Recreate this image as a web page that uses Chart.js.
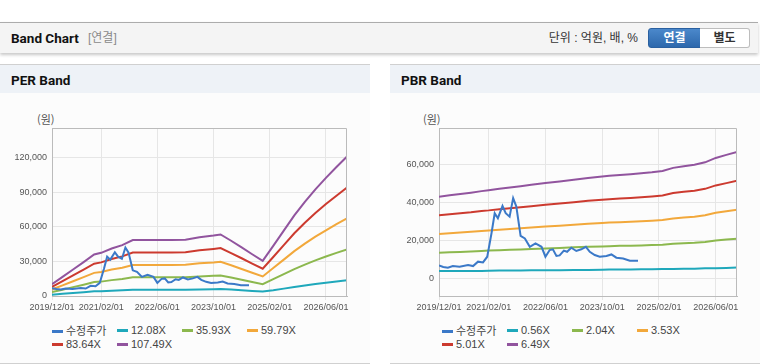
<!DOCTYPE html>
<html lang="ko">
<head>
<meta charset="utf-8">
<script src="https://cdn.jsdelivr.net/npm/chart.js@4.4.1/dist/chart.umd.min.js"></script>
<style>
  body { margin: 0; width: 760px; height: 364px; background: #fff; position: relative; overflow: hidden;
         font-family: "Liberation Sans", Arial, "Noto Sans CJK KR", sans-serif; }
  #hdr { position: absolute; left: 0; top: 22px; width: 758px; height: 30px; background: #f4f4f4;
         border-top: 1px solid #acacac; box-shadow: 0 2px 3px rgba(0,0,0,0.22); }
  #hdr .title { position: absolute; left: 11px; top: 0; font: bold 13.5px Roboto, sans-serif; line-height: 30px; color: #111; }
  #hdr .sub { position: absolute; left: 88px; top: 0; font: 12px "Liberation Sans", "Noto Sans CJK KR", sans-serif; line-height: 30px; color: #8a8a8a; }
  #hdr .unit { position: absolute; right: 120px; top: 0; font: 12px "Liberation Sans", "Noto Sans CJK KR", sans-serif; line-height: 30px; color: #333; }
  .btn { position: absolute; top: 5px; height: 18px; text-align: center;
         font: bold 12px "Liberation Sans", "Noto Sans CJK KR", sans-serif; line-height: 18px; }
  .btn.on { left: 648px; width: 51px; color: #fff; background: linear-gradient(#4b88cb, #2d68ac);
            border: 1px solid #2a60a0; border-radius: 3px 0 0 3px; }
  .btn.off { left: 700px; width: 49px; color: #333; background: #fff; border: 1px solid #bdbdbd;
             border-left: none; border-radius: 0 3px 3px 0; }
  .panel { position: absolute; top: 64px; width: 370px; height: 298px; background: #fcfcfc;
           border-top: 1px solid #d0d0d0; border-bottom: 1px solid #d0d0d0; }
  .panel .ptitle { height: 28px; padding-left: 11px; background: #eef2f7;
                   font: bold 13.5px Roboto, sans-serif; line-height: 30px; color: #111; }
  .panel .won { position: absolute; top: 46px; font: 11px "Noto Sans CJK KR", sans-serif; color: #555; }
  .panel canvas { position: absolute; left: 0; top: 35px; }
  .legend { position: absolute; top: 259px; display: grid; grid-template-columns: repeat(4, 65px);
            font-size: 11px; color: #444; line-height: 13px; }
  .legend span.sw { display: inline-block; width: 11px; height: 3px; margin-right: 3px; vertical-align: middle; position: relative; top: -1px; }
  .legend .ko { font-family: "Noto Sans CJK KR", sans-serif; }
</style>
</head>
<body>
<div id="hdr">
  <div class="title">Band Chart</div>
  <div class="sub">[연결]</div>
  <div class="unit">단위 : 억원, 배, %</div>
  <div class="btn on">연결</div>
  <div class="btn off">별도</div>
</div>

<div class="panel" style="left:0">
  <div class="ptitle">PER Band</div>
  <div class="won" style="left:37px">(원)</div>
  <canvas id="per" width="370" height="220"></canvas>
  <div class="legend" id="perLegend" style="left:52px"></div>
</div>

<div class="panel" style="left:390px">
  <div class="ptitle">PBR Band</div>
  <div class="won" style="left:33px">(원)</div>
  <canvas id="pbr" width="370" height="220"></canvas>
  <div class="legend" id="pbrLegend" style="left:52px"></div>
</div>

<script>
// x axis: months counted from 2019/12/01
const xTickMonths = [0, 14, 30, 46, 62, 78];
const xTickLabels = ['2019/12/01', '2021/02/01', '2022/06/01', '2023/10/01', '2025/02/01', '2026/06/01'];
const bandMonths = [0, 3, 6, 9, 12, 14, 17, 20, 23, 26, 30, 34, 38, 42, 46, 48, 51, 54, 57, 60, 63, 66, 69, 72, 75, 78, 81, 84];

const seriesColors = ['#3b79c8', '#1fa8bb', '#8cb84e', '#f2a83b', '#cc3a2f', '#91549e'];

// 수정주가 (adjusted price)
const priceMonths = [0, 1.2, 2.5, 3.9, 5.8, 8.2, 9.6, 11, 12.4, 13.6, 14.8, 15.7, 16.6, 17.9, 18.8, 19.9, 20.9, 21.8, 23, 24.2,
  25.6, 27.2, 28.9, 30, 31.2, 32.1, 33.1, 34, 35.2, 36.1, 37.3, 38.7, 40.1, 41.4, 42.5, 43.9, 45.3, 47.2, 48.6, 50, 51.9, 53.8, 56.1];
const price = [6800, 6000, 5600, 6500, 6100, 7000, 6500, 8800, 8400, 11400, 23700, 34200, 31600, 38000, 34200, 32400, 42100, 37700, 22300, 21000,
  16600, 18400, 16600, 11400, 14900, 15300, 11800, 12100, 14600, 14000, 16100, 14400, 15300, 16600, 14000, 12300, 11400, 11800, 12600, 10900, 10500, 9300, 9300];

// PER band
const perLabels = ['수정주가', '12.08X', '35.93X', '59.79X', '83.64X', '107.49X'];
const per12 = [1100, 1900, 2600, 3300, 4100, 4200, 4600, 5000, 5500, 5500, 5500, 5500, 5500, 5700, 5900, 6000, 5600, 4900, 4300, 3900, 4900, 6400, 7900, 9200, 10400, 11500, 12600, 13800];
const per36 = [3400, 5500, 7700, 9800, 12100, 12500, 13800, 14800, 16200, 16200, 16200, 16200, 16300, 17000, 17600, 17900, 16000, 14100, 12100, 10200, 14600, 19000, 23400, 27300, 31000, 34300, 37500, 40500];
const per60 = [5700, 9200, 12800, 16400, 20100, 20900, 23000, 24600, 27000, 27000, 27000, 27000, 27100, 28400, 29200, 29800, 26700, 23500, 20200, 17000, 24300, 31600, 39000, 45500, 51600, 57100, 62400, 67400];
const per84 = [7900, 12900, 17900, 22900, 28100, 29200, 32100, 34400, 37800, 37800, 37800, 37800, 38000, 39700, 40900, 41600, 37300, 32800, 28200, 23700, 33900, 44200, 54500, 63600, 72100, 79900, 87200, 94300];
const per107 = [10200, 16600, 23000, 29400, 36100, 37500, 41300, 44200, 48600, 48600, 48600, 48600, 48800, 51000, 52500, 53500, 48000, 42200, 36300, 30500, 43600, 56800, 70100, 81800, 92700, 102700, 112100, 121200];
const perTicks = [0, 30000, 60000, 90000, 120000];

// PBR band
const pbrLabels = ['수정주가', '0.56X', '2.04X', '3.53X', '5.01X', '6.49X'];
const pbr056 = [3900, 3900, 3900, 3900, 3900, 4000, 4200, 4200, 4200, 4300, 4300, 4300, 4400, 4500, 4600, 4700, 4700, 4700, 4800, 4800, 4900, 5000, 5100, 5100, 5300, 5400, 5500, 5700];
const pbr204 = [13500, 13700, 13900, 14100, 14400, 14600, 14800, 15000, 15200, 15400, 15700, 16000, 16300, 16600, 16800, 16900, 17100, 17200, 17300, 17500, 17700, 18200, 18500, 18700, 19100, 19900, 20400, 20800];
const pbr353 = [23300, 23700, 24100, 24500, 24900, 25200, 25600, 25900, 26300, 26700, 27200, 27700, 28200, 28700, 29100, 29300, 29500, 29800, 30000, 30300, 30700, 31500, 32000, 32400, 33100, 34400, 35200, 36100];
const pbr501 = [33100, 33700, 34200, 34700, 35400, 35700, 36300, 36800, 37400, 37900, 38600, 39300, 40000, 40700, 41300, 41600, 41900, 42200, 42600, 43000, 43500, 44800, 45500, 46000, 47000, 48800, 50000, 51200];
const pbr649 = [42900, 43600, 44300, 45000, 45800, 46300, 47000, 47700, 48400, 49100, 50000, 50900, 51800, 52700, 53500, 53900, 54300, 54700, 55200, 55700, 56400, 58000, 58900, 59600, 60900, 63200, 64800, 66300];
const pbrTicks = [0, 20000, 40000, 60000];

const toPoints = (xs, ys) => ys.map((y, i) => ({ x: xs[i], y }));

const framePlugin = {
  id: 'frame',
  afterDraw(chart) {
    const { ctx, chartArea: a } = chart;
    ctx.save();
    ctx.strokeStyle = '#bbbbbb';
    ctx.lineWidth = 1;
    ctx.beginPath();
    ctx.moveTo(Math.round(a.left) + 0.5, Math.round(a.top) + 0.5);
    ctx.lineTo(Math.round(a.right) - 0.5, Math.round(a.top) + 0.5);
    ctx.lineTo(Math.round(a.right) - 0.5, Math.round(a.bottom));
    ctx.stroke();
    ctx.restore();
  }
};

function makeChart(id, labels, bands, yMin, yMax, yTicks, axisWidth) {
  const datasets = [toPoints(priceMonths, price)].concat(bands.map(b => toPoints(bandMonths, b)))
    .map((data, i) => ({
      label: labels[i],
      data,
      borderColor: seriesColors[i],
      backgroundColor: seriesColors[i],
      borderWidth: 2,
      pointRadius: 0,
      tension: 0,
    }));

  return new Chart(document.getElementById(id), {
    type: 'line',
    data: { datasets },
    plugins: [framePlugin],
    options: {
      responsive: false,
      animation: false,
      layout: { padding: { top: 28, right: 23, left: 0, bottom: 0 } },
      plugins: { legend: { display: false }, tooltip: { enabled: false } },
      scales: {
        x: {
          type: 'linear',
          min: 0,
          max: 84,
          afterBuildTicks: (axis) => { axis.ticks = xTickMonths.map(v => ({ value: v })); },
          afterFit: (axis) => { axis.height = 24; },
          grid: { color: '#e6e6e6', tickLength: 4 },
          border: { color: '#bbbbbb' },
          ticks: {
            autoSkip: false,
            maxRotation: 0,
            padding: 2,
            color: '#555',
            font: { family: '"Liberation Sans", Arial, sans-serif', size: 9 },
            callback: (v, i) => xTickLabels[i],
          },
        },
        y: {
          min: yMin,
          max: yMax,
          afterBuildTicks: (axis) => { axis.ticks = yTicks.map(v => ({ value: v })); },
          afterFit: (axis) => { axis.width = axisWidth; },
          grid: { color: '#e6e6e6', drawTicks: false },
          border: { color: '#bbbbbb' },
          ticks: {
            padding: 5,
            color: '#555',
            font: { family: '"Liberation Sans", Arial, sans-serif', size: 9 },
            callback: (v) => v.toLocaleString('en-US'),
          },
        },
      },
    },
  });
}

function makeLegend(elId, labels) {
  const el = document.getElementById(elId);
  labels.forEach((name, i) => {
    const item = document.createElement('div');
    item.innerHTML = '<span class="sw" style="background:' + seriesColors[i] + '"></span>' +
      '<span class="' + (i === 0 ? 'ko' : '') + '">' + name + '</span>';
    el.appendChild(item);
  });
}

makeChart('per', perLabels, [per12, per36, per60, per84, per107], 0, 146000, perTicks, 52);
makeChart('pbr', pbrLabels, [pbr056, pbr204, pbr353, pbr501, pbr649], -9200, 78900, pbrTicks, 49);
makeLegend('perLegend', perLabels);
makeLegend('pbrLegend', pbrLabels);
</script>
</body>
</html>
